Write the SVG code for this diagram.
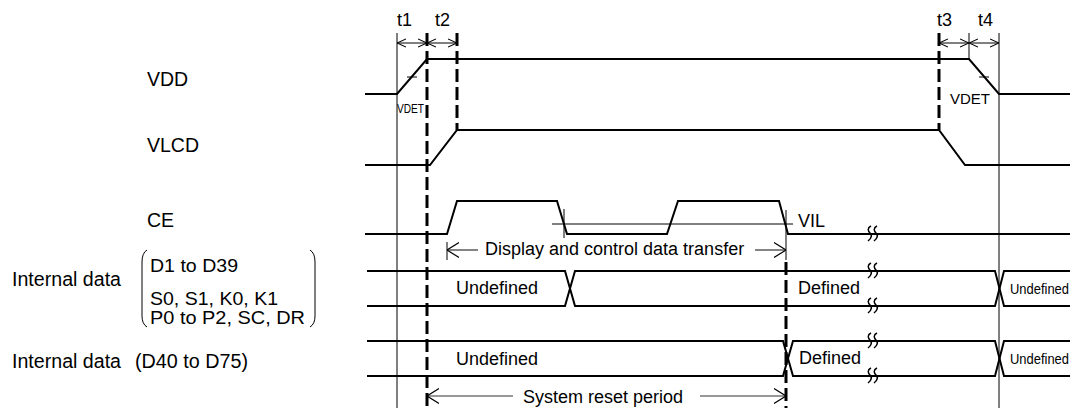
<svg xmlns="http://www.w3.org/2000/svg" width="1078" height="408" viewBox="0 0 1078 408">
<style>
text{font-family:"Liberation Sans",Arial,sans-serif;fill:#000}
.lbl{font-size:19.5px}
.lbs{font-size:18.5px}
.t{font-size:18px}
.sig{fill:none;stroke:#000;stroke-width:2;stroke-linejoin:miter}
.thin{fill:none;stroke:#000;stroke-width:1}
.dash{fill:none;stroke:#000;stroke-width:3;stroke-dasharray:13 5}
.arr{fill:none;stroke:#000;stroke-width:1;marker-start:url(#ah);marker-end:url(#ah)}
.arrL{fill:none;stroke:#333;stroke-width:1.2}
.bk{fill:none;stroke:#000;stroke-width:1.5}
</style>
<defs>
<marker id="ah" viewBox="0 0 10 10" refX="10" refY="5" markerWidth="9" markerHeight="10" markerUnits="userSpaceOnUse" orient="auto-start-reverse">
<path d="M0,0.5 L10,5 L0,9.5" fill="none" stroke="#000" stroke-width="1.2"/>
</marker>
<marker id="ahb" viewBox="0 0 12 16" refX="12" refY="8" markerWidth="12" markerHeight="16" markerUnits="userSpaceOnUse" orient="auto">
<path d="M0,0.5 L12,8 L0,15.5" fill="none" stroke="#000" stroke-width="1.2"/>
</marker>
<g id="brk">
<path class="bk" d="M-1,-8 C-5,-6 -4,-3 -2,-1 C0,1 0,4 -4,7"/>
<path class="bk" d="M5,-8 C1,-6 2,-3 4,-1 C6,1 6,4 2,7"/>
</g>
</defs>
<rect width="1078" height="408" fill="#fff"/>

<g id="labels">
<text class="lbl" x="147" y="86">VDD</text>
<text class="lbl" x="147" y="152">VLCD</text>
<text class="lbl" x="147" y="227">CE</text>
<text class="lbl" x="12" y="286" textLength="109" lengthAdjust="spacingAndGlyphs">Internal data</text>
<text class="lbs" x="150" y="272" textLength="88" lengthAdjust="spacingAndGlyphs">D1 to D39</text>
<text class="lbs" x="150" y="305" textLength="128" lengthAdjust="spacingAndGlyphs">S0, S1, K0, K1</text>
<text class="lbs" x="150" y="324" textLength="155" lengthAdjust="spacingAndGlyphs">P0 to P2, SC, DR</text>
<path class="thin" d="M147,250 Q142,253 142,262 L142,316 Q142,324 147,327"/>
<path class="thin" d="M310,250 Q315,253 315,262 L315,316 Q315,324 310,327"/>
<text class="lbl" x="12" y="368" textLength="109" lengthAdjust="spacingAndGlyphs">Internal data</text>
<text class="lbl" x="135" y="368" textLength="113" lengthAdjust="spacingAndGlyphs">(D40 to D75)</text>
</g>

<g id="markers-vertical">
<line class="thin" x1="397" y1="33" x2="397" y2="408"/>
<line class="thin" x1="999" y1="33" x2="999" y2="408"/>
<line class="thin" x1="969" y1="33" x2="969" y2="59"/>
<line class="dash" x1="427" y1="33" x2="427" y2="408"/>
<line class="dash" x1="457" y1="33" x2="457" y2="130"/>
<line class="dash" x1="939" y1="33" x2="939" y2="130"/>
<line class="dash" x1="786" y1="262" x2="786" y2="408"/>
<line class="thin" x1="786" y1="210" x2="786" y2="260"/>
<line class="thin" x1="564" y1="209" x2="564" y2="238"/>
<line class="thin" x1="447" y1="242" x2="447" y2="260"/>
</g>

<g id="timing-labels">
<text class="t" x="397" y="26">t1</text>
<text class="t" x="435" y="26">t2</text>
<text class="t" x="937" y="26">t3</text>
<text class="t" x="978" y="26">t4</text>
</g>

<g id="signal-vdd">
<path class="sig" d="M365,94 L397,94 L427,59 L969,59 L999,94 L1070,94"/>
<line class="thin" x1="407" y1="77" x2="417" y2="77"/>
<line class="thin" x1="979" y1="77" x2="989" y2="77"/>
<text x="397" y="113" font-size="13" textLength="27" lengthAdjust="spacingAndGlyphs">VDET</text>
<text x="950" y="104" font-size="15">VDET</text>
</g>

<g id="signal-vlcd">
<path class="sig" d="M365,165 L430,165 L457,130 L939,130 L965,165 L1070,165"/>
</g>

<g id="signal-ce">
<path class="sig" d="M365,234 L447,234 L457,201 L557,201 L567,234 L667,234 L678,201 L779,201 L788,234 L1070,234"/>
<line class="thin" x1="552" y1="224" x2="793" y2="224"/>
<text class="t" x="798" y="227">VIL</text>
<use href="#brk" x="872" y="234"/>
</g>

<g id="signal-data1">
<path class="sig" d="M367,271 L565,271 L575,306 L995,306 L1004,271 L1070,271"/>
<path class="sig" d="M367,306 L565,306 L575,271 L995,271 L1004,306 L1070,306"/>
<use href="#brk" x="872" y="271"/>
<use href="#brk" x="872" y="306"/>
<text class="t" x="456" y="294">Undefined</text>
<text class="t" x="798" y="294">Defined</text>
<text x="1010" y="294" font-size="14" textLength="59" lengthAdjust="spacingAndGlyphs">Undefined</text>
</g>

<g id="signal-data2">
<path class="sig" d="M367,341 L783,341 L793,376 L995,376 L1004,341 L1070,341"/>
<path class="sig" d="M367,376 L783,376 L793,341 L995,341 L1004,376 L1070,376"/>
<use href="#brk" x="872" y="341"/>
<use href="#brk" x="872" y="376"/>
<text class="t" x="456" y="365">Undefined</text>
<text class="t" x="799" y="364">Defined</text>
<text x="1010" y="364" font-size="14" textLength="59" lengthAdjust="spacingAndGlyphs">Undefined</text>
</g>

<g id="connectors">
<line class="arr" x1="397" y1="43" x2="427" y2="43"/>
<line class="arr" x1="427" y1="43" x2="457" y2="43"/>
<line class="arr" x1="939" y1="43" x2="969" y2="43"/>
<line class="arr" x1="969" y1="43" x2="999" y2="43"/>
<line class="arrL" x1="478" y1="250" x2="447" y2="250" marker-end="url(#ahb)"/>
<line class="arrL" x1="755" y1="250" x2="786" y2="250" marker-end="url(#ahb)"/>
<line class="arrL" x1="513" y1="396" x2="427" y2="396" marker-end="url(#ahb)"/>
<line class="arrL" x1="700" y1="396" x2="786" y2="396" marker-end="url(#ahb)"/>
</g>

<g id="arrow-labels">
<text class="t" x="485" y="255">Display and control data transfer</text>
<text class="t" x="523" y="403">System reset period</text>
</g>
</svg>
